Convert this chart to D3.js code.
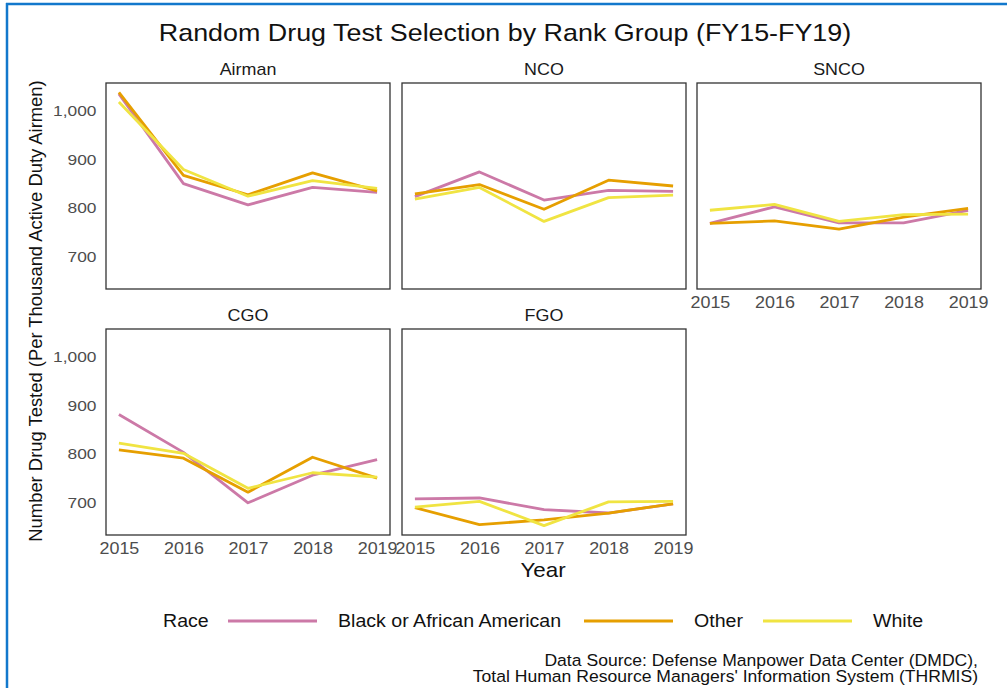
<!DOCTYPE html>
<html><head><meta charset="utf-8">
<script src="https://cdn.jsdelivr.net/npm/d3@7"></script>
<style>
body{margin:0;background:#fff;}
svg{display:block;font-family:"Liberation Sans",Arial,sans-serif;}
</style></head><body>
<svg id="chart" width="1007" height="688"></svg>
<script>
const years = [2015, 2016, 2017, 2018, 2019];
const panels = ["Airman", "NCO", "SNCO", "CGO", "FGO"];
const races = ["Black or African American", "Other", "White"];
const raceColors = ["#CC79A7", "#E69F00", "#F0E442"];
const yTicks = [700, 800, 900, 1000];

// values per panel, per race, per year
const airmanBlack = [1035, 850, 806, 842, 832];
const airmanOther = [1038, 867, 827, 872, 835];
const airmanWhite = [1018, 879, 824, 856, 840];
const ncoBlack = [823, 874, 816, 836, 834];
const ncoOther = [829, 848, 797, 857, 845];
const ncoWhite = [818, 842, 772, 821, 826];
const sncoBlack = [768, 802, 769, 769, 795];
const sncoOther = [768, 773, 756, 781, 799];
const sncoWhite = [795, 807, 772, 786, 787];
const cgoBlack = [881, 803, 699, 756, 788];
const cgoOther = [808, 791, 721, 793, 750];
const cgoWhite = [822, 801, 729, 761, 752];
const fgoBlack = [707, 709, 685, 678, 697];
const fgoOther = [689, 654, 664, 678, 697];
const fgoWhite = [690, 702, 652, 701, 702];

const seriesByPanel = {
  "Airman": [airmanBlack, airmanOther, airmanWhite],
  "NCO": [ncoBlack, ncoOther, ncoWhite],
  "SNCO": [sncoBlack, sncoOther, sncoWhite],
  "CGO": [cgoBlack, cgoOther, cgoWhite],
  "FGO": [fgoBlack, fgoOther, fgoWhite]
};

const SX = 1.12; // horizontal text stretch seen in the reference
const svg = d3.select("#chart");

function txt(parent, x, y, anchor, size, str, fill) {
  return parent.append("text")
    .attr("transform", `translate(${x},${y}) scale(${SX},1)`)
    .attr("text-anchor", anchor).attr("font-size", size)
    .attr("fill", fill || "#111").text(str);
}

// blue frame
svg.append("line").attr("x1", 6).attr("x2", 1007).attr("y1", 4).attr("y2", 4)
  .attr("stroke", "#1278cc").attr("stroke-width", 2.5);
svg.append("line").attr("x1", 7).attr("x2", 7).attr("y1", 3).attr("y2", 688)
  .attr("stroke", "#1278cc").attr("stroke-width", 2.5);

// title
txt(svg, 505, 41, "middle", 24, "Random Drug Test Selection by Rank Group (FY15-FY19)");

const colX = [106, 402, 697];
const rowY = [83, 329];
const pw = 284, ph = 206;

const allVals = Object.values(seriesByPanel).flat(2);
const ext = d3.extent(allVals);
const pad = (ext[1] - ext[0]) * 0.05;
const y = d3.scaleLinear().domain([ext[0] - pad, ext[1] + pad]).range([ph, 0]);
const xpad = (years[4] - years[0]) * 0.05;
const x = d3.scaleLinear().domain([years[0] - xpad, years[4] + xpad]).range([0, pw]);

const color = d3.scaleOrdinal().domain(races).range(raceColors);
const line = d3.line().x((d, i) => x(years[i])).y(d => y(d));

panels.forEach((p, k) => {
  const col = k % 3, row = Math.floor(k / 3);
  const g = svg.append("g").attr("transform", `translate(${colX[col]},${rowY[row]})`);
  txt(g, pw / 2, -8, "middle", 16, p, "#1a1a1a");
  seriesByPanel[p].forEach((vals, j) => {
    g.append("path").datum(vals).attr("d", line).attr("fill", "none")
      .attr("stroke", color(races[j])).attr("stroke-width", 2.8)
      .attr("stroke-linejoin", "round");
  });
  g.append("rect").attr("width", pw).attr("height", ph).attr("fill", "none")
    .attr("stroke", "#333").attr("stroke-width", 1.3);
  if (col === 0) {
    const ay = g.append("g").call(d3.axisLeft(y).tickValues(yTicks).tickSize(0).tickPadding(9).tickFormat(d3.format(",")));
    ay.select(".domain").remove();
    ay.selectAll("text").attr("font-size", 15.5).attr("fill", "#4d4d4d")
      .attr("font-family", "Liberation Sans, Arial, sans-serif")
      .attr("x", -9.5 / SX).attr("transform", `scale(${SX},1)`);
  }
  if (row === 1 || k === 2) {
    const ax = g.append("g").attr("transform", `translate(0,${ph})`)
      .call(d3.axisBottom(x).tickValues(years).tickSize(0).tickPadding(8).tickFormat(d3.format("d")));
    ax.select(".domain").remove();
    ax.selectAll("text").attr("font-size", 16).attr("fill", "#4d4d4d")
      .attr("font-family", "Liberation Sans, Arial, sans-serif")
      .attr("transform", `scale(${SX},1)`);
  }
});

// axis titles
svg.append("text").attr("transform", "translate(42,311) rotate(-90)")
  .attr("text-anchor", "middle").attr("font-size", 18.4).attr("fill", "#111")
  .text("Number Drug Tested (Per Thousand Active Duty Airmen)");
txt(svg, 543, 577, "middle", 20, "Year");

// legend
const leg = svg.append("g");
txt(leg, 163, 627, "start", 17.5, "Race");
const legItems = [
  {x1: 228, x2: 317, tx: 338},
  {x1: 584, x2: 673, tx: 694},
  {x1: 763, x2: 852, tx: 873}
];
races.forEach((r, i) => {
  leg.append("line").attr("x1", legItems[i].x1).attr("x2", legItems[i].x2)
    .attr("y1", 621).attr("y2", 621).attr("stroke", color(r)).attr("stroke-width", 2.8);
  txt(leg, legItems[i].tx, 627, "start", 17.5, r);
});

// source note
txt(svg, 978, 666, "end", 15.7, "Data Source: Defense Manpower Data Center (DMDC),");
txt(svg, 978, 682, "end", 15.7, "Total Human Resource Managers' Information System (THRMIS)");
</script>
</body></html>
